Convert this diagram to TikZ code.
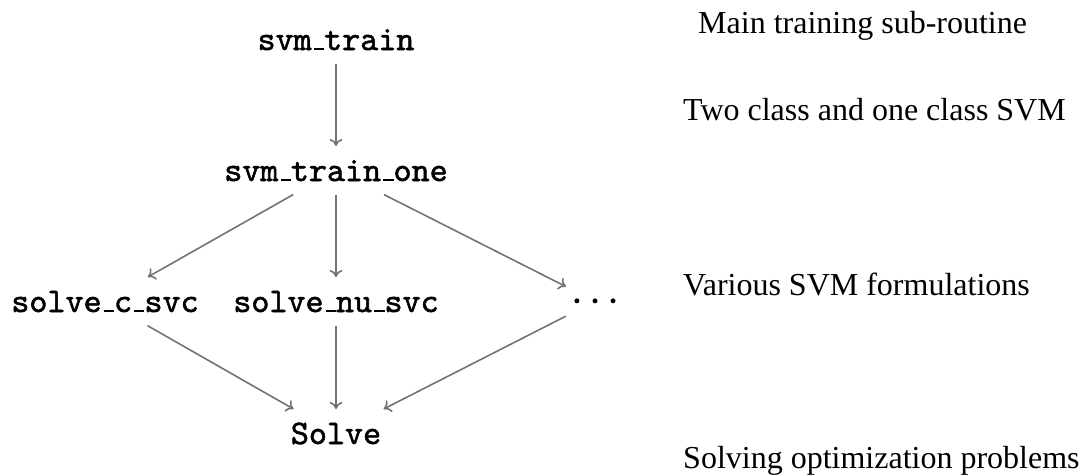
\documentclass[tikz,border=0pt]{standalone}
\usepackage{fontspec}
\usetikzlibrary{arrows.meta}
\newfontfamily\notefont{Liberation Serif}
\newfontfamily\codefont{lmmono10-regular.otf}[FakeBold=1.6]
% OT1-style short underscore sitting on the baseline
\newcommand{\us}{\kern.06em\vbox{\hrule height .05em width .3em}}
\begin{document}
\begin{tikzpicture}[x=1pt,y=-1pt,
  fn/.style={font=\fontsize{34.4}{40}\selectfont\codefont, anchor=base,
    text height=21.4pt, text depth=0pt, inner ysep=13.6pt, inner xsep=11pt, outer sep=0pt},
  note/.style={font=\fontsize{32}{38}\selectfont\notefont, anchor=base west, inner sep=0pt},
  call/.style={-{Computer Modern Rightarrow[length=7pt,width=13pt]}, draw=black!55, line width=1.6pt}]
\useasboundingbox (0,0) rectangle (1089,475);

% call hierarchy
\node[fn] (train)  at (336,50)  {svm\us train};
\node[fn] (one)    at (336,181) {svm\us train\us one};
\node[fn] (csvc)   at (105,312) {solve\us c\us svc};
\node[fn] (nusvc)  at (336,312) {solve\us nu\us svc};
\node[fn, inner xsep=2pt] (more) at (595,312) {\raisebox{9pt}{...}};
\node[fn] (solve)  at (336,444) {Solve};

\draw[call] (train) -- (one);
\draw[call] (one) -- (csvc);
\draw[call] (one) -- (nusvc);
\draw[call] (one) -- (more);
\draw[call] (csvc) -- (solve);
\draw[call] (nusvc) -- (solve);
\draw[call] (more) -- (solve);

% level descriptions
\node[note] (n1) at (698,33)  {Main training sub-routine};
\node[note] (n2) at (683,120) {Two class and one class SVM};
\node[note] (n3) at (683,295) {Various SVM formulations};
\node[note] (n4) at (683,468) {Solving optimization problems};
\end{tikzpicture}
\end{document}
